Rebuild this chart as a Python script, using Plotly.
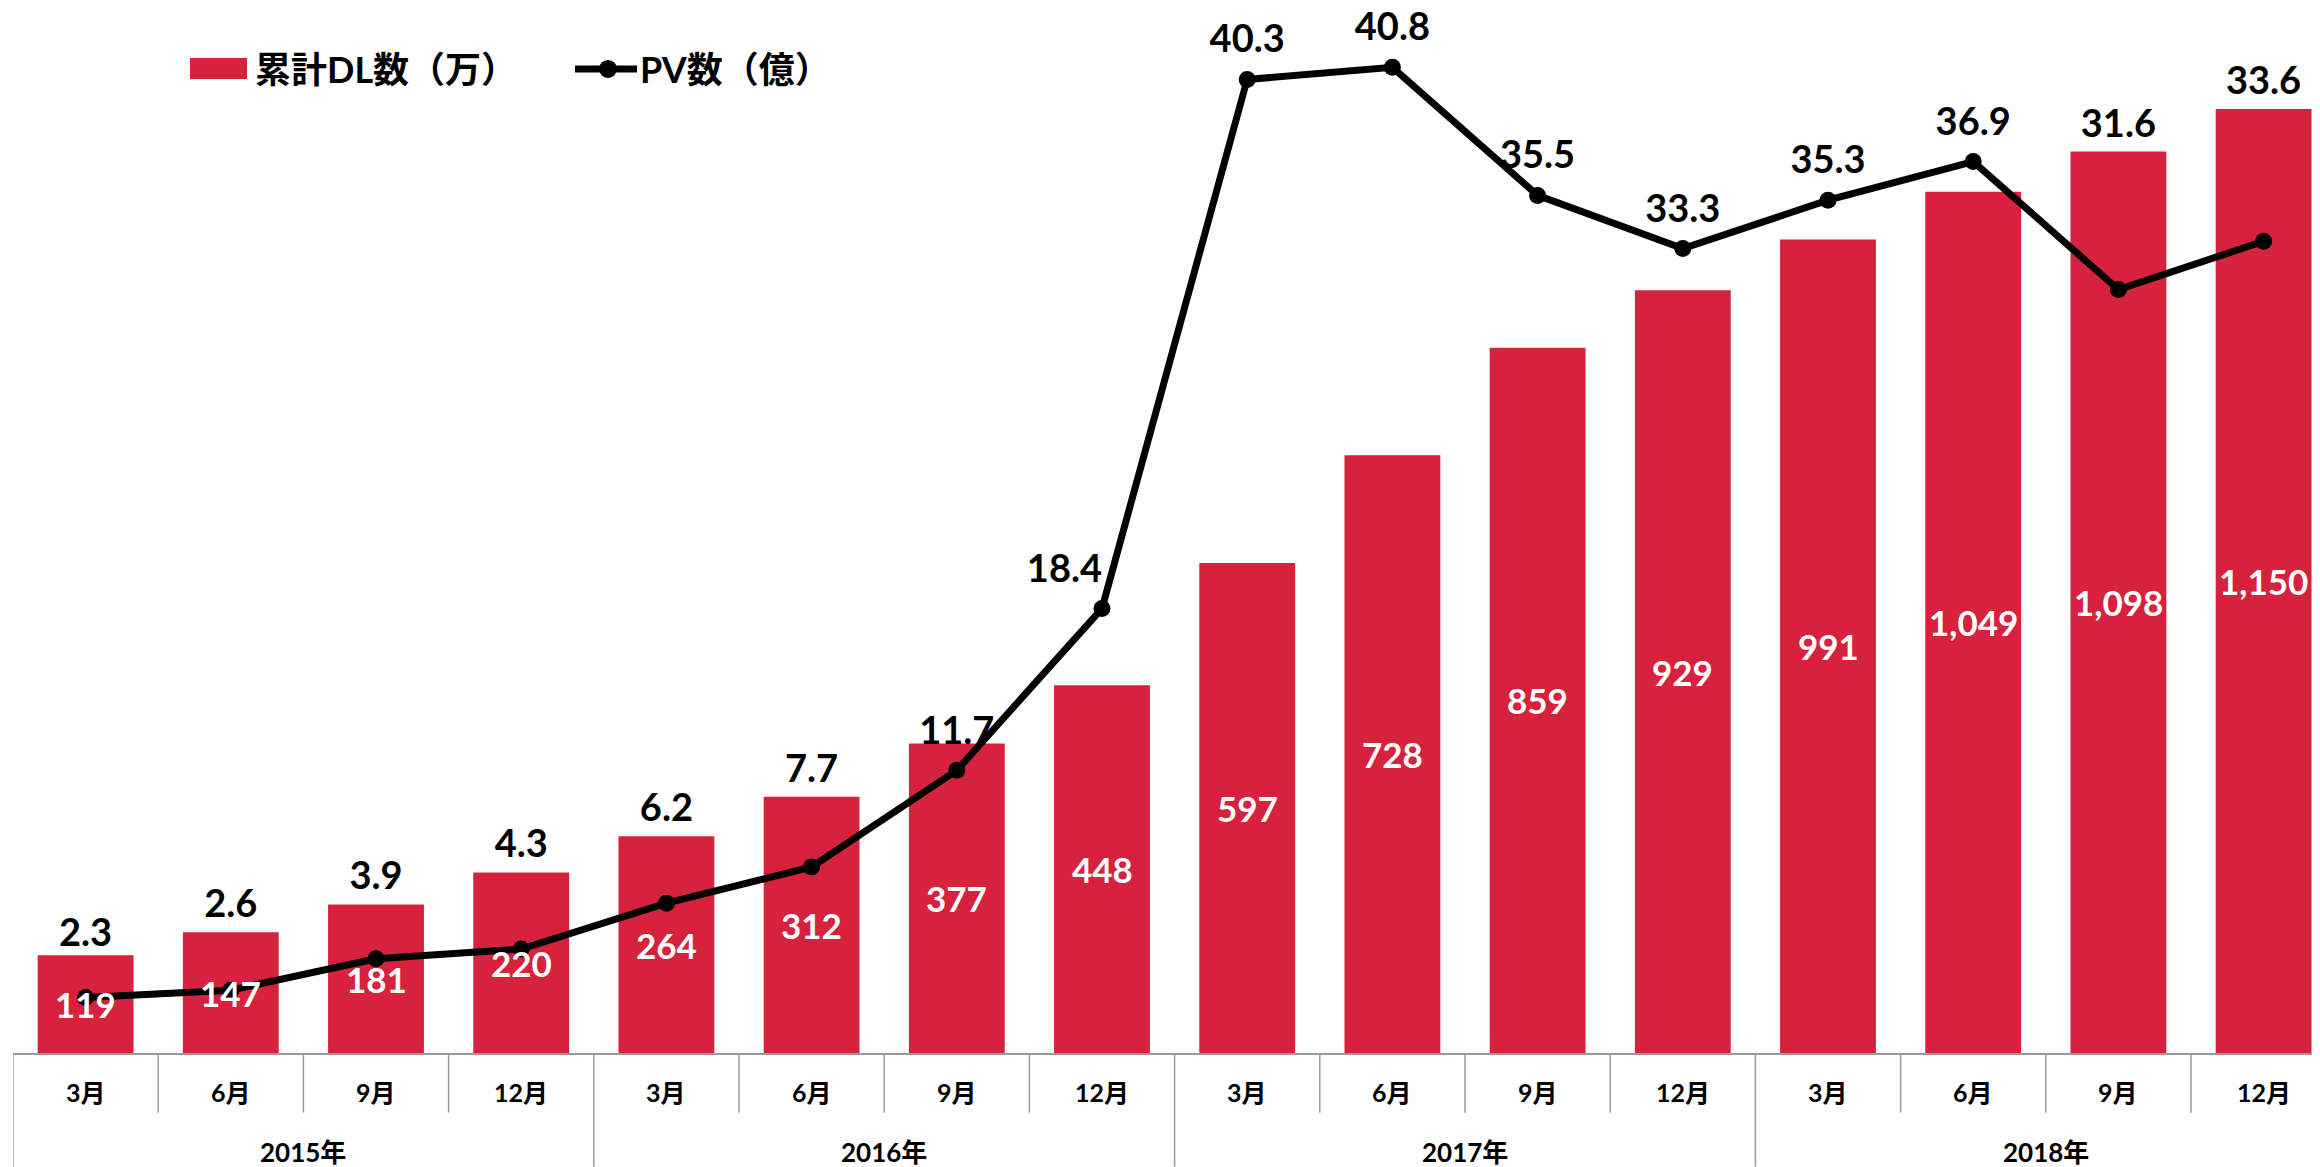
import plotly.graph_objects as go

# ---------------- data ----------------
years = ["2015年"] * 4 + ["2016年"] * 4 + ["2017年"] * 4 + ["2018年"] * 4
months = ["3月", "6月", "9月", "12月"] * 4
dl_values = [119, 147, 181, 220, 264, 312, 377, 448, 597, 728, 859, 929, 991, 1049, 1098, 1150]
pv_values = [2.3, 2.6, 3.9, 4.3, 6.2, 7.7, 11.7, 18.4, 40.3, 40.8, 35.5, 33.3, 35.3, 36.9, 31.6, 33.6]
legend_names = ["累計DL数（万）", "PV数（億）"]

# ---------------- geometry / style ----------------
OFF = 8                      # page body margin of the html page
W, H = 2320 - OFF, 1167 - OFF
ML, MR, MT = 13 - OFF, 0, 10 - OFF
BASE = 1053.3 - OFF          # baseline in figure pixels
MB = H - BASE
PW, PH = W - ML - MR, H - MT - MB
PX_PER_DL = 0.8212
PX_PER_PV = 24.165
CAT_W = 145.2
Y1MAX = PH / PX_PER_DL
Y2MAX = PH / PX_PER_PV
XMAX = -0.5 + PW / CAT_W

RED = "#D7223D"
GRAY = "#9a9a9a"
FONT = "Lato, 'Noto Sans CJK JP', sans-serif"
PV_FS = 38
label_nudge_down = {0: 6, 6: 15}          # px, hand placement of some PV labels
label_textpos = {7: "middle left"}


def px(x):
    """page x pixel -> paper"""
    return (x - OFF - ML) / PW


def py(y):
    """page y pixel -> paper"""
    return (BASE - (y - OFF)) / PH


# PV label positions: glyph baseline above the higher of bar top and point
ratio = Y2MAX / Y1MAX
pv_label_y = []
for i, (d, p) in enumerate(zip(dl_values, pv_values)):
    bottom = max(d * ratio + 15 / PX_PER_PV, p + 27 / PX_PER_PV)
    bottom -= label_nudge_down.get(i, 0) / PX_PER_PV
    pv_label_y.append(bottom + 0.25 * PV_FS / PX_PER_PV)

fig = go.Figure()
fig.add_trace(go.Bar(
    x=[years, months], y=dl_values, name=legend_names[0],
    marker=dict(color=RED, line=dict(width=0)),
    showlegend=False, yaxis="y",
))
fig.add_trace(go.Scatter(
    x=[years, months], y=pv_label_y, mode="text",
    text=[f"{p:.1f}" for p in pv_values],
    textposition=[label_textpos.get(i, "middle center") for i in range(len(pv_values))],
    textfont=dict(family=FONT, size=PV_FS, color="black", weight="bold"),
    cliponaxis=False, showlegend=False, hoverinfo="skip", yaxis="y2",
))
fig.add_trace(go.Scatter(
    x=[years, months], y=pv_values, name=legend_names[1],
    mode="lines+markers", line=dict(color="black", width=7),
    marker=dict(color="black", size=17), cliponaxis=False,
    showlegend=False, yaxis="y2",
))

ann = []
shapes = []
for i, d in enumerate(dl_values):
    ann.append(dict(x=i, y=d / 2, xref="x", yref="y", text=f"{d:,}", showarrow=False,
                    font=dict(family=FONT, size=35, color="white", weight="bold"),
                    xanchor="center", yanchor="middle"))
    ann.append(dict(x=i, y=py(1092), xref="x", yref="paper", text=months[i], showarrow=False,
                    font=dict(family=FONT, size=25, color="black", weight="bold"),
                    xanchor="center", yanchor="middle"))

# category boundaries: short ticks between months, long dividers between years
n = len(months)
year_starts = [i for i in range(n) if i == 0 or years[i] != years[i - 1]]
for b in range(n + 1):
    is_year = b in year_starts or b == n
    shapes.append(dict(type="line", xref="x", yref="paper", x0=b - 0.5, x1=b - 0.5,
                       y0=0, y1=py(1167 if is_year else 1113),
                       line=dict(color=GRAY, width=1.5)))
for k, s in enumerate(year_starts):
    e = year_starts[k + 1] if k + 1 < len(year_starts) else n
    ann.append(dict(x=(s + e - 1) / 2, y=py(1152), xref="x", yref="paper", text=years[s],
                    showarrow=False, xanchor="center", yanchor="middle",
                    font=dict(family=FONT, size=26, color="black", weight="bold")))

# legend (drawn by hand to match the wide swatch)
shapes += [
    dict(type="rect", xref="paper", yref="paper", x0=px(190), x1=px(247), y0=py(79), y1=py(58),
         fillcolor=RED, line=dict(width=0)),
    dict(type="line", xref="paper", yref="paper", x0=px(575), x1=px(637), y0=py(69), y1=py(69),
         line=dict(color="black", width=7)),
    dict(type="circle", xref="paper", yref="paper", x0=px(599), x1=px(617), y0=py(78), y1=py(60),
         fillcolor="black", line=dict(width=0)),
]
ann.append(dict(x=px(253), y=py(69), xref="paper", yref="paper", text=legend_names[0],
                showarrow=False, xanchor="left", yanchor="middle",
                font=dict(family=FONT, size=36, color="black", weight="bold")))
ann.append(dict(x=px(638), y=py(69), xref="paper", yref="paper", text=legend_names[1],
                showarrow=False, xanchor="left", yanchor="middle",
                font=dict(family=FONT, size=36, color="black", weight="bold")))

fig.update_layout(
    width=W, height=H,
    margin=dict(l=ML, r=MR, t=MT, b=MB, autoexpand=False),
    paper_bgcolor="white", plot_bgcolor="white",
    bargap=0.34,
    showlegend=False,
    xaxis=dict(type="multicategory", range=[-0.5, XMAX], showline=True, linecolor=GRAY,
               linewidth=2, ticks="", showticklabels=False, showdividers=False,
               showgrid=False, zeroline=False, fixedrange=True),
    yaxis=dict(range=[0, Y1MAX], visible=False, showgrid=False, zeroline=False),
    yaxis2=dict(range=[0, Y2MAX], visible=False, overlaying="y", side="right",
                showgrid=False, zeroline=False),
    annotations=ann, shapes=shapes,
)

fig.write_html("out.html")
